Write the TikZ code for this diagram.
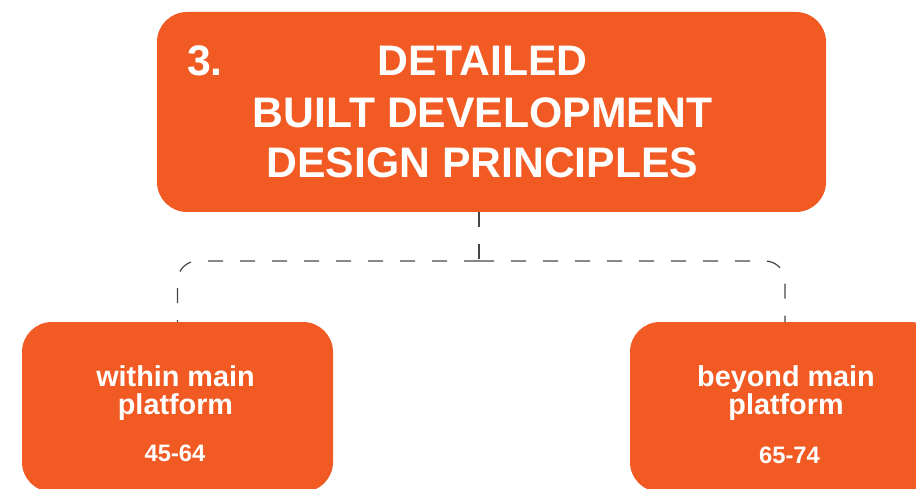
\documentclass[tikz,border=0pt]{standalone}
\usepackage{fontspec}
\setmainfont{Liberation Sans}
\definecolor{boxorange}{RGB}{241,90,34}
\definecolor{linegray}{RGB}{70,70,70}
\begin{document}
\begin{tikzpicture}[x=1pt,y=-1pt,
  orangebox/.style={fill=boxorange, draw=none, rounded corners=30pt, inner sep=0pt},
  bigtext/.style={text=white, font=\bfseries\fontsize{42.7}{50}\selectfont, anchor=base, inner sep=0pt},
  midtext/.style={text=white, font=\bfseries\fontsize{28.8}{29}\selectfont, anchor=base, inner sep=0pt},
  numtext/.style={text=white, font=\bfseries\fontsize{23.8}{24}\selectfont, anchor=base, inner sep=0pt},
  dashline/.style={draw=linegray, line width=1.2pt, dash pattern=on 15pt off 17pt}]
\useasboundingbox (0,0) rectangle (916,489);
% boxes
\node[orangebox, minimum width=669pt, minimum height=200pt] (top) at (491.5,112) {};
\node[orangebox, minimum width=311pt, minimum height=170pt] (left) at (177.5,407) {};
\node[orangebox, minimum width=310pt, minimum height=170pt] (right) at (785,407) {};
% top texts
\node[bigtext] (num) at (205,76) {3.};
\node[bigtext] (t1) at (482.5,76) {DETAILED};
\node[bigtext] (t2) at (482.5,128) {BUILT DEVELOPMENT};
\node[bigtext] (t3) at (482.5,178) {DESIGN PRINCIPLES};
% left texts
\node[midtext] (l1) at (175.5,386) {within main};
\node[midtext] (l2) at (175.5,414) {platform};
\node[numtext] (l3) at (175,461.5) {45-64};
% right texts
\node[midtext] (r1) at (786,386) {beyond main};
\node[midtext] (r2) at (786,414) {platform};
\node[numtext] (r3) at (789.5,463) {65-74};
% connectors
\coordinate (j) at (479,261);
\draw[dashline] (top.south -| j) -- (j);
\draw[dashline, rounded corners=20pt] (j) -| (left.north);
\draw[dashline, rounded corners=20pt] (j) -| (right.north);
\end{tikzpicture}
\end{document}
